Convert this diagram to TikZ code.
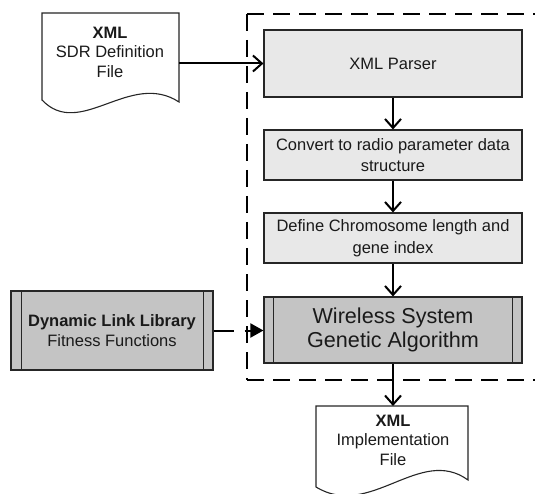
\documentclass[tikz,border=0pt]{standalone}
\usepackage{fontspec}
\setmainfont{Liberation Sans}
\usetikzlibrary{arrows.meta}
\definecolor{lightbox}{HTML}{E8E8E8}
\definecolor{darkbox}{HTML}{C4C4C4}
\definecolor{inktext}{HTML}{1A1A1A}
\begin{document}
\begin{tikzpicture}[x=1pt,y=-1pt,
  procbox/.style={draw=black!85, line width=1.1pt, fill=lightbox, minimum width=258pt,
    align=center, text=inktext, inner sep=0pt,
    font=\fontsize{16.5}{21.5}\selectfont},
  bigbox/.style={procbox, fill=darkbox, font=\fontsize{21.6}{24.5}\selectfont},
  libbox/.style={draw=black!85, line width=1.1pt, fill=darkbox, minimum width=202pt,
    minimum height=79pt, align=center, text=inktext, inner sep=0pt,
    font=\fontsize{16.5}{20}\selectfont},
  doctext/.style={align=center, text=inktext, inner sep=0pt, font=\fontsize{16.5}{19.5}\selectfont},
  docline/.style={draw=black!85, line width=1.1pt, fill=white},
  flow/.style={line width=2pt, -{Straight Barb[length=9pt,width=16pt,line width=2pt]}},
  dflow/.style={line width=2pt, dash pattern=on 20pt off 11pt, -{Triangle[length=13pt,width=14pt]}},
  groupline/.style={line width=2.6pt, dash pattern=on 17pt off 9pt}
]
\useasboundingbox (0,0) rectangle (535,494);

% dashed group
\draw[groupline] (247,14) -- (545,14);
\draw[groupline] (247,14) -- (247,380);
\draw[groupline] (247,380) -- (545,380);

% input document
\coordinate (inTL) at (42,13);
\coordinate (inTR) at (179,13);
\draw[docline] (inTL) -- (inTR) -- (179,102)
  .. controls (130,70) and (80,140) .. (42,100) -- cycle;
\node[doctext] (xmlin) at (110,52) {\textbf{XML}\\SDR Definition\\File};
\coordinate (inR) at (179,63.5);

% process boxes
\node[procbox, minimum height=67pt] (parser) at (393,63.5) {XML Parser};
\node[procbox, minimum height=50pt] (convert) at (393,155) {Convert to radio parameter data\\structure};
\node[procbox, minimum height=50pt] (define) at (393,238) {Define Chromosome length and\\gene index};
\node[bigbox, minimum height=66pt] (ga) at (393,330) {Wireless System\\Genetic Algorithm};
\draw[line width=1.1pt, black!85] ([xshift=10pt]ga.north west) -- ([xshift=10pt]ga.south west);
\draw[line width=1.1pt, black!85] ([xshift=-10pt]ga.north east) -- ([xshift=-10pt]ga.south east);

% library box
\node[libbox] (dll) at (112,330.5) {\textbf{Dynamic Link Library}\\Fitness Functions};
\draw[line width=1.1pt, black!85] ([xshift=11pt]dll.north west) -- ([xshift=11pt]dll.south west);
\draw[line width=1.1pt, black!85] ([xshift=-10pt]dll.north east) -- ([xshift=-10pt]dll.south east);

% output document
\draw[docline] (316,406) -- (468,406) -- (468,480)
  .. controls (420,445) and (370,520) .. (316,487) -- cycle;
\node[doctext] (xmlout) at (393,440) {\textbf{XML}\\Implementation\\File};
\coordinate (outT) at (393,406);

% connectors
\draw[flow] (inR) -- (parser.west);
\draw[flow] (parser.south) -- (convert.north);
\draw[flow] (convert.south) -- (define.north);
\draw[flow] (define.south) -- (ga.north);
\draw[flow] (ga.south) -- (outT);
\draw[dflow] (dll.east) -- (dll.east -| ga.west);
\end{tikzpicture}
\end{document}
